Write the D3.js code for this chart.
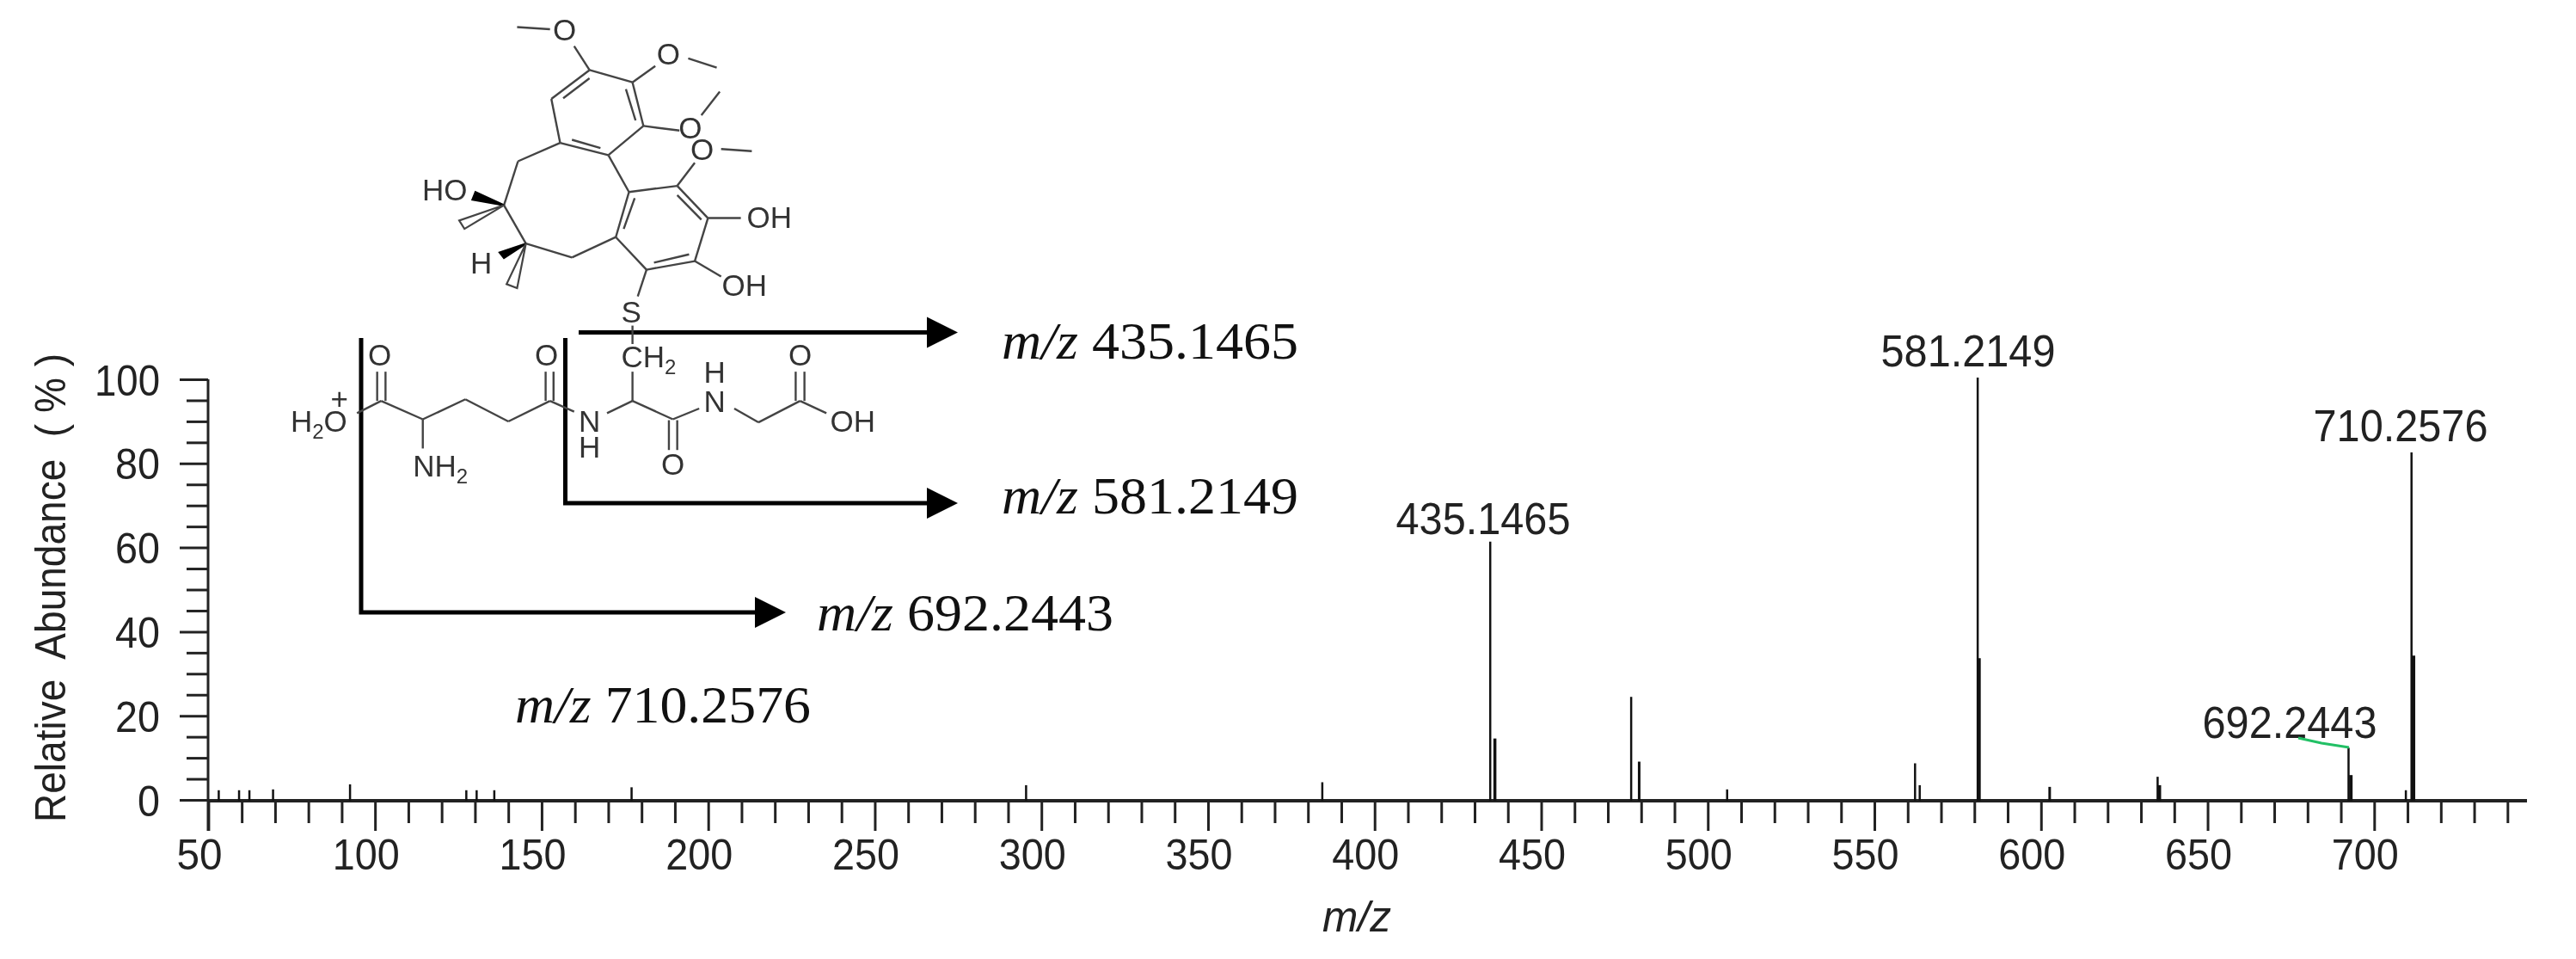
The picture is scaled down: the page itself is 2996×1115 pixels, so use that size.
<!DOCTYPE html>
<html><head><meta charset="utf-8">
<script src="https://cdn.jsdelivr.net/npm/d3@7"></script>
<style>
html,body{margin:0;padding:0;background:#fff}
svg{display:block;filter:blur(0.55px)}
text{font-family:"Liberation Sans",Arial,sans-serif;fill:#222;white-space:pre}
.serif{font-family:"Liberation Serif","Times New Roman",serif;fill:#111}
</style></head><body>
<svg id="c" width="2996" height="1115"></svg>
<script>
// ---- data ----
const peakMz  = [53.1,59.2,62.3,69.4,92.5,127.4,130.5,135.8,177,295.4,384.3,434.7,436.1,477,479.4,505.8,562.2,563.6,581,581.4,602.6,635,635.6,692.3,693,709.5,711.2,711.8];
const peakAbs = [2.5,2.5,2.5,2.7,3.9,2.5,2.5,2.5,3.2,3.7,4.4,61.6,14.8,24.7,9.3,2.7,8.9,3.7,100.6,33.9,3.3,5.7,3.7,12.6,6.1,2.5,82.8,34.5];
const peakWid = [2.5,2.5,2.5,2.5,2.5,2.5,2.5,2.5,2.5,2.5,2.5,2.5,3.5,2.5,3,2.5,2.5,2.5,2.5,4,3,2.5,3.5,2.5,4,2.5,2.5,4];
const xMajor = [50,100,150,200,250,300,350,400,450,500,550,600,650,700];
const xMinor = d3.range(50,750,10).filter(v=>v%50!==0);
const yMajor = [0,20,40,60,80,100];
const yMinor = [5,10,15,25,30,35,45,50,55,65,70,75,85,90,95];
const peakLabels = [
  {t:"435.1465",x:1725,y:621},{t:"581.2149",x:2289,y:426},
  {t:"710.2576",x:2792,y:513},{t:"692.2443",x:2663,y:858}];
const fragLabels = [
  {v:"435.1465",x:1165,y:417,w:345},{v:"581.2149",x:1165,y:597,w:345},
  {v:"692.2443",x:950,y:733,w:345},{v:"710.2576",x:599,y:840,w:344}];

const svg = d3.select("#c");
const x = d3.scaleLinear().domain([50,700]).range([242.4,2761.3]);
const y = d3.scaleLinear().domain([0,100]).range([930,441]);
const axisY0 = 931;

function style(g){g.select(".domain").remove();g.selectAll("line").attr("stroke","#222").attr("stroke-width",3);}
// x axis
svg.append("g").attr("transform",`translate(0,${axisY0})`)
  .call(d3.axisBottom(x).tickValues(xMinor).tickSize(26).tickFormat("")).call(style);
const xg = svg.append("g").attr("transform",`translate(0,${axisY0})`)
  .call(d3.axisBottom(x).tickValues(xMajor).tickSize(35).tickFormat(d3.format("d"))).call(style);
xg.selectAll("text").attr("x",-11).attr("y",80).attr("dy",0).attr("font-size",50).attr("text-anchor","middle")
  .attr("textLength",d=>d<100?53:78).attr("lengthAdjust","spacingAndGlyphs");
svg.append("line").attr("x1",x(50)).attr("x2",2939).attr("y1",axisY0).attr("y2",axisY0).attr("stroke","#222").attr("stroke-width",4);
// y axis
svg.append("g").attr("transform","translate(242,0)")
  .call(d3.axisLeft(y).tickValues(yMinor).tickSize(25).tickFormat("")).call(style);
const yg = svg.append("g").attr("transform","translate(242,0)")
  .call(d3.axisLeft(y).tickValues(yMajor).tickSize(33).tickFormat(d3.format("d"))).call(style);
yg.selectAll("text").attr("x",-56).attr("dy",0).attr("y",18).attr("font-size",50).attr("text-anchor","end")
  .attr("textLength",d=>d===100?76:d===0?26:52).attr("lengthAdjust","spacingAndGlyphs");
svg.append("line").attr("x1",242).attr("x2",242).attr("y1",y(100)).attr("y2",966).attr("stroke","#222").attr("stroke-width",3);

// peaks
svg.append("g").selectAll("line").data(peakMz).join("line")
  .attr("x1",d=>x(d)).attr("x2",d=>x(d)).attr("y1",axisY0).attr("y2",(d,i)=>axisY0-(y(0)-y(peakAbs[i])))
  .attr("stroke","#111").attr("stroke-width",(d,i)=>peakWid[i]);

// peak labels
svg.append("g").selectAll("text").data(peakLabels).join("text")
  .attr("x",d=>d.x).attr("y",d=>d.y).attr("text-anchor","middle").attr("font-size",51)
  .attr("textLength",203).attr("lengthAdjust","spacingAndGlyphs").text(d=>d.t);
svg.append("path").attr("d",d3.line()([[2673,858],[2700,864],[2732,869]])).attr("fill","none").attr("stroke","#22c065").attr("stroke-width",3);

// axis titles
svg.append("text").attr("x",1538).attr("y",1083).attr("font-size",50).attr("font-style","italic")
  .attr("textLength",80).attr("lengthAdjust","spacingAndGlyphs").text("m/z");
svg.append("text").attr("transform","translate(76,956) rotate(-90)").attr("font-size",50)
  .attr("textLength",545).attr("lengthAdjust","spacingAndGlyphs").text("Relative  Abundance  ( % )");

// fragmentation arrows
const lineGen = d3.line();
const arrows = [
  [[673,386.5],[1080,386.5]],
  [[657.5,393],[657.5,585],[1080,585]],
  [[420,393],[420,712],[880,712]]];
arrows.forEach(a=>{
  svg.append("path").attr("d",lineGen(a)).attr("fill","none").attr("stroke","#000").attr("stroke-width",5);
  const [ex,ey]=a[a.length-1];
  svg.append("path").attr("d",lineGen([[ex-2,ey-18],[ex+34,ey],[ex-2,ey+18]])+"Z").attr("fill","#000");
});
// fragment labels
fragLabels.forEach(f=>{
  const t=svg.append("text").attr("class","serif").attr("x",f.x).attr("y",f.y).attr("font-size",62)
    .attr("textLength",f.w).attr("lengthAdjust","spacingAndGlyphs");
  t.append("tspan").attr("class","serif").attr("font-style","italic").text("m/z");
  t.append("tspan").attr("class","serif").text(" "+f.v);
});

// structure drawing (coordinates on a local sketch grid, mapped to the page)
const mx = d3.scaleLinear().domain([0,1568]).range([280,1080]);
const my = d3.scaleLinear().domain([0,1568]).range([0,560]);
const bonds = [
 [795,228,893,268],[893,268,918,410],[918,410,838,505],[838,505,728,465],[728,465,708,322],[708,322,795,228],
 [795,255,735,320],[878,290,900,392],[820,482,755,455],
 [795,228,760,150],[705,95,630,88],[893,268,945,215],[1020,190,1085,220],
 [918,410,1000,425],[1050,375,1092,298],
 [838,505,885,625],[885,625,995,605],[995,605,1065,710],[1065,710,1035,850],[1035,850,925,878],[925,878,855,772],[855,772,885,625],
 [898,645,873,745],[995,635,1050,715],[1022,828,942,855],
 [995,605,1035,530],[1095,485,1165,492],[1065,710,1140,710],[1035,850,1095,900],[925,878,905,965],[893,1060,893,1120],
 [728,465,632,525],[632,525,600,668],[600,668,650,793],[650,793,755,838],[755,838,855,772],
 [265,1345,320,1305],[320,1305,415,1365],[415,1365,512,1300],[512,1300,610,1372],[610,1372,705,1305],[705,1305,760,1340],
 [311,1305,311,1210],[330,1305,330,1210],[415,1365,415,1460],[695,1305,695,1210],[713,1305,713,1210],
 [835,1345,893,1305],[893,1305,985,1365],[985,1365,1045,1330],[893,1305,893,1210],
 [976,1368,976,1465],[995,1368,995,1465],
 [1125,1330,1180,1375],[1180,1375,1275,1305],[1275,1305,1335,1345],[1265,1305,1265,1210],[1285,1305,1285,1210]];
svg.append("g").selectAll("line").data(bonds).join("line")
  .attr("x1",d=>mx(d[0])).attr("y1",d=>my(d[1])).attr("x2",d=>mx(d[2])).attr("y2",d=>my(d[3]))
  .attr("stroke","#444").attr("stroke-width",2.4);
const wedges = [
 {p:[[600,668],[535,625],[528,650]],f:"#000"},
 {p:[[650,793],[590,822],[600,840]],f:"#000"},
 {p:[[600,668],[498,718],[510,745]],f:"#fff"},
 {p:[[650,793],[606,925],[630,938]],f:"#fff"}];
wedges.forEach(w=>svg.append("path").attr("d",lineGen(w.p.map(q=>[mx(q[0]),my(q[1])]))+"Z")
  .attr("fill",w.f).attr("stroke",w.f==="#000"?"#000":"#444").attr("stroke-width",2.2));
const atoms = [
 ["O",738,97],["O",975,175],["O",1025,415],["O",1052,485],["OH",1205,708],["OH",1148,928],["S",890,1015],
 ["HO",465,618],["H",548,855],["O",317,1155],["O",697,1155],["N",795,1370],["H",795,1455],["O",985,1510],
 ["N",1080,1305],["H",1080,1210],["O",1275,1155],["OH",1395,1370],["+",225,1297]];
svg.append("g").selectAll("text").data(atoms).join("text")
  .attr("x",d=>mx(d[1])).attr("y",d=>my(d[2])+12.5).attr("text-anchor","middle").attr("font-size",35)
  .style("fill","#333").text(d=>d[0]);
const sub = [["H","2","O",178,1370],["NH","2","",455,1515],["CH","2","",930,1160]];
sub.forEach(s=>{
  const t=svg.append("text").attr("x",mx(s[3])).attr("y",my(s[4])+12.5).attr("text-anchor","middle").attr("font-size",35).style("fill","#333");
  t.append("tspan").text(s[0]);
  t.append("tspan").attr("font-size",24).attr("dy",8).text(s[1]);
  if(s[2]) t.append("tspan").attr("dy",-8).text(s[2]);
});
</script></body></html>
